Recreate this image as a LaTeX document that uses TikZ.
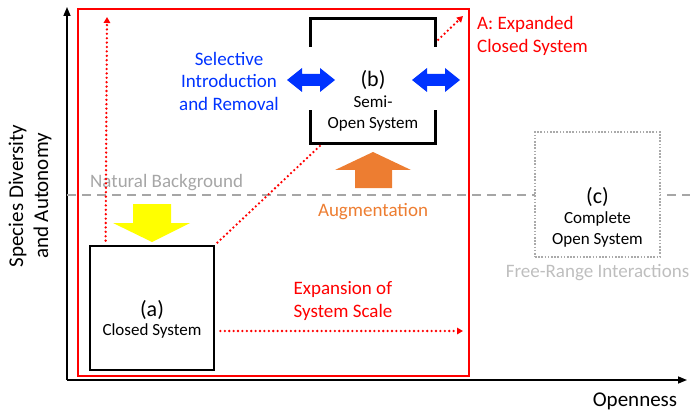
\documentclass[tikz,border=0pt]{standalone}
\usepackage{fontspec}
\setmainfont{Carlito}
\usetikzlibrary{arrows.meta,calc,positioning}
\definecolor{bggray}{RGB}{166,166,166}
\definecolor{freegray}{RGB}{190,190,190}
\definecolor{boxgray}{RGB}{170,170,170}
\definecolor{selblue}{RGB}{0,51,255}
\definecolor{augorange}{RGB}{237,125,49}
\definecolor{expred}{RGB}{255,0,0}
\definecolor{sunyellow}{RGB}{255,255,0}
\newcommand{\sz}[2]{\fontsize{#1}{#2}\selectfont}

\begin{document}
\begin{tikzpicture}[x=1pt, y=-1pt, line join=miter, every node/.style={inner sep=0pt},
		axis/.style={line width=1.5pt, -{Triangle[length=9pt,width=7pt]}},
		reddots/.style={expred, line width=2.6pt, line cap=round, dash pattern=on 0pt off 4.4pt},
		redarrow/.style={reddots, -{Triangle[length=6pt,width=6.5pt]}},
		sysbox/.style={draw, line width=2.8pt, fill=white, minimum size=124pt},
		openbox/.style={draw=boxgray, line width=2.2pt, fill=white, dash pattern=on 1.6pt off 1.6pt, minimum size=125pt},
		bracket/.style={line width=2.8pt},
		lbl/.style={font=\sz{19}{22.5}},
		systxt/.style={font=\sz{17}{21}},
		lettxt/.style={font=\sz{22}{26}},
		axlabel/.style={font=\sz{21}{25}}]
	\useasboundingbox (0,0) rectangle (690,414);
	% axes
	\coordinate (O) at (67,380);
	\coordinate (ytip) at (67,7);
	\coordinate (xtip) at (687,380);
	\draw[axis] (O) -- (ytip);
	\draw[axis] (O) -- (xtip);
	\node[axlabel, rotate=90, align=center] (ylab) at (30,196) {Species Diversity\\and Autonomy};
	\node[axlabel] (xlab) at (635,401) {Openness};
	% natural background
	\coordinate (nbl) at (67,195);
	\coordinate (nbr) at (690,195);
	\draw[bggray, line width=2.6pt, dash pattern=on 9pt off 6pt] (nbl) -- (nbr);
	\node[lbl, text=bggray, anchor=west] (natbg) at (90,183) {Natural Background};
	% A: expanded closed system
	\draw[expred, line width=2.8pt] (78,9) rectangle (469,376);
	\node[lbl, text=expred, align=left, anchor=west] (expA) at (477,36) {A: Expanded\\Closed System};
	% (c) complete open system
	\node[openbox] (c) at (597.5,194.5) {};
	\node[lettxt] (clab) at (597.5,197) {(c)};
	\node[systxt, align=center] (cname) at (597.5,229) {Complete\\Open System};
	\node[lbl, text=freegray] (free) at (597.5,273) {Free-Range Interactions};
	% (a) closed system
	\node[sysbox] (a) at (152,308) {};
	\node[lettxt] (alab) at (152,310) {(a)};
	\node[systxt] (aname) at (152,331) {Closed System};
	\fill[sunyellow] (133,204) -- (171,204) -- (171,223) -- (190,223) -- (152,242) -- (113,223) -- (133,223) -- cycle;
	% (b) semi-open system
	\node[minimum size=124pt] (b) at (373,81) {};
	\draw[bracket] ($(b.north west)+(0,28)$) |- (b.north east) -- ++(0,28);
	\draw[bracket] ($(b.south west)+(0,-33)$) |- (b.south east) -- ++(0,-33);
	\node[lettxt] (blab) at (373,80) {(b)};
	\node[systxt, align=center] (bname) at (373,114) {Semi-\\Open System};
	\foreach \s in {0,125}
		\fill[selblue, xshift=\s] (287,80) -- (302,68) -- (302,74) -- (320,74) -- (320,68) -- (335,80) -- (320,92) -- (320,86) -- (302,86) -- (302,92) -- cycle;
	\node[lbl, text=selblue, align=center] (sel) at (229,81) {Selective\\Introduction\\and Removal};
	\fill[augorange] (355,188) -- (392,188) -- (392,170) -- (411,170) -- (373,152) -- (335,170) -- (355,170) -- cycle;
	\node[lbl, text=augorange] (aug) at (373,212) {Augmentation};
	% expansion paths
	\coordinate (upTip) at (107,17);
	\coordinate (aTip) at (463,16);
	\coordinate (rTip) at (463,331);
	\draw[redarrow] ($(a.north west)+(17,-4)$) -- (upTip);
	\draw[reddots] ($(a.north east)+(2,-2)$) -- ($(b.south west)+(12,0)$);
	\draw[redarrow] ($(b.north east)+(3,21)$) -- (aTip);
	\draw[redarrow] ($(a.east)+(5,23)$) -- (rTip);
	\node[lbl, text=expred, align=left] (exps) at (343,301) {Expansion of\\System Scale};
\end{tikzpicture}
\end{document}
